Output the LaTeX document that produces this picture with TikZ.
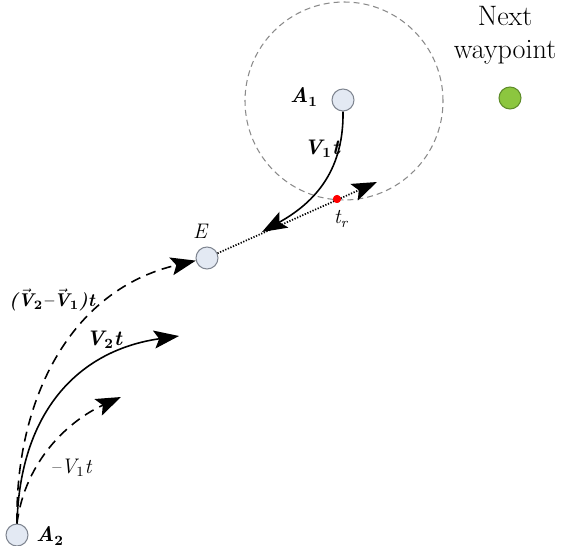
\documentclass[tikz,border=0pt]{standalone}
\usetikzlibrary{arrows.meta}
\definecolor{ptfill}{HTML}{E3E9F3}
\definecolor{ptline}{HTML}{7F8590}
\definecolor{goalfill}{HTML}{8CC63F}
\definecolor{goalline}{HTML}{5E8C2A}
\definecolor{zonegray}{HTML}{8A8A8A}
\definecolor{hitred}{HTML}{FF0000}
\newcommand{\vvec}[1]{\ensuremath{\vec{\mbox{\textit{#1}}}}}
\newcommand{\lowidx}[1]{\textsubscript{\upshape #1}}

\begin{document}
\begin{tikzpicture}[x=0.02cm, y=-0.02cm,
  pt/.style={circle, draw=ptline, fill=ptfill, line width=0.6pt, minimum size=0.44cm, inner sep=0pt},
  goal/.style={pt, draw=goalline, fill=goalfill},
  hit/.style={circle, fill=hitred, minimum size=0.16cm, inner sep=0pt},
  lbl/.style={font=\fontsize{12}{14}\selectfont\itshape, inner sep=1pt},
  blbl/.style={lbl, font=\fontsize{12}{14}\selectfont\bfseries\itshape},
  arr/.style={-{Stealth[length=5mm,width=3.6mm,inset=1mm]}, line width=0.9pt},
  darr/.style={arr, dash pattern=on 2mm off 1.3mm},
  dotarr/.style={arr, dash pattern=on 0.7pt off 0.9pt, line width=1pt}
]
  \useasboundingbox (0,0) rectangle (563,546);

  % zona sekitar A1
  \draw[zonegray, line width=0.6pt, dash pattern=on 1.2mm off 0.8mm] (344,101) circle (0.02*99cm);

  % titik
  \node[pt]   (A1) at (343,100) {};
  \node[pt]   (E)  at (207,258) {};
  \node[pt]   (A2) at (17,535)  {};
  \node[goal] (wp) at (510,98)  {};
  \node[hit]  (tr) at (337,199) {};
  \coordinate (trend) at (377,182);
  \coordinate (v1end) at (262,232);

  % label
  \node[blbl] (lA1) at (304,97)  {A\lowidx{1}};
  \node[blbl] (lA2) at (50,536)  {A\lowidx{2}};
  \node[lbl]  (lE)  at (200,231) {E};
  \node[lbl]  (ltr) at (341,219) {t\textsubscript{\itshape r}};
  \node[font=\fontsize{16}{19}\selectfont, align=center] (lwp) at (505,35) {Next\\waypoint};
  \node[blbl] (lv1) at (322,149) {V\lowidx{1}t};
  \node[blbl, font=\fontsize{10.5}{12}\selectfont\bfseries\itshape] (lrel) at (52,300) {(\vvec{V}\lowidx{2}\textendash\vvec{V}\lowidx{1})t};
  \node[blbl] (lv2) at (104,340) {V\lowidx{2}t};
  \node[lbl]  (lnv1) at (71,468) {\textendash V\lowidx{1}t};

  % gerak A1 dan perpanjangan
  \draw[arr] (A1.south) .. controls (344,175) and (310,205) .. (v1end);
  \draw[dotarr] (E) -- (trend);

  % gerak relatif dari A2
  \draw[darr] (A2.north) .. controls (15,400) and (70,290) .. (E);
  \draw[arr]  (A2.north) .. controls (20,410) and (80,350) .. (179,336);
  \draw[darr] (A2.north) .. controls (25,460) and (70,420) .. (121,397);

  \node[hit] at (tr) {};
\end{tikzpicture}
\end{document}
